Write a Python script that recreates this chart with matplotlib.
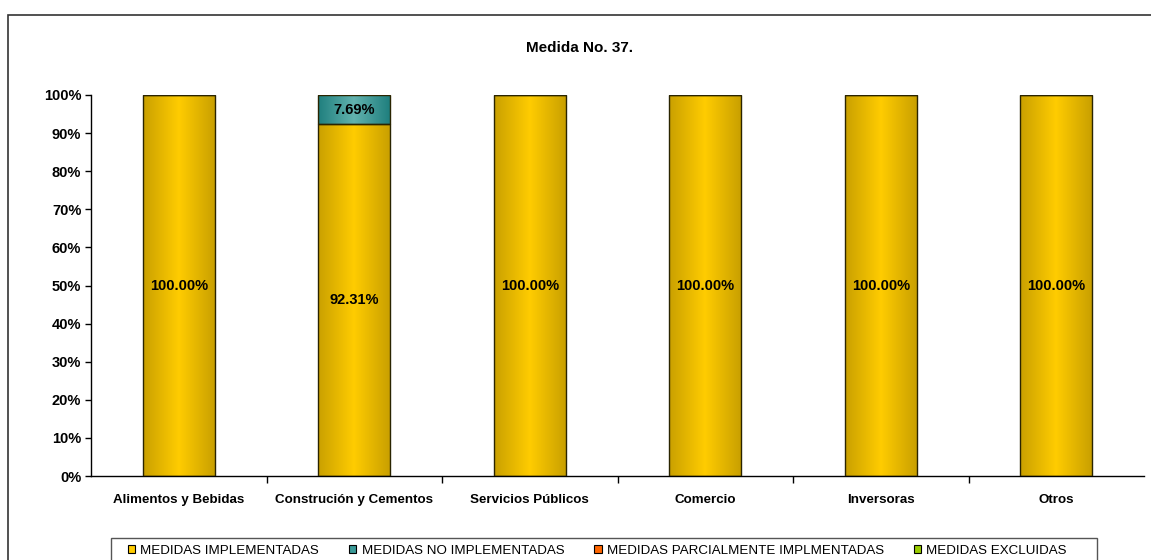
import numpy as np
import matplotlib.pyplot as plt
from matplotlib.patches import Rectangle
from matplotlib.colors import LinearSegmentedColormap

plt.rcParams['font.family'] = ['Liberation Sans', 'DejaVu Sans']

categorias = ['Alimentos y Bebidas', 'Construción y Cementos', 'Servicios Públicos',
              'Comercio', 'Inversoras', 'Otros']
implementadas = [100.00, 92.31, 100.00, 100.00, 100.00, 100.00]
no_implementadas = [0.00, 7.69, 0.00, 0.00, 0.00, 0.00]
parciales = [0, 0, 0, 0, 0, 0]
excluidas = [0, 0, 0, 0, 0, 0]

series = ['MEDIDAS IMPLEMENTADAS', 'MEDIDAS NO IMPLEMENTADAS',
          'MEDIDAS PARCIALMENTE IMPLMENTADAS', 'MEDIDAS EXCLUIDAS']
colores = ['#FFCC00', '#3A9A98', '#FF6600', '#99CC00']

cmap_oro = LinearSegmentedColormap.from_list('oro', ['#C9A000', '#FFCC00', '#C9A000'])
cmap_teal = LinearSegmentedColormap.from_list('teal', ['#1F7F7E', '#62B2AE', '#1F7F7E'])


def barras_degradado(ax, x, bottom, height, cmap, width=0.41):
    bars = ax.bar(x, height, width, bottom=bottom, color='none',
                  edgecolor='#2a2400', linewidth=1.0, zorder=3)
    grad = np.linspace(0, 1, 256).reshape(1, -1)
    for b in bars:
        if b.get_height() <= 0:
            continue
        x0, y0 = b.get_x(), b.get_y()
        im = ax.imshow(grad, cmap=cmap, aspect='auto', zorder=2,
                       extent=[x0, x0 + b.get_width(), y0, y0 + b.get_height()])
        im.set_clip_path(b)
    return bars


fig = plt.figure(figsize=(11.51, 5.6), dpi=100)
ax = fig.add_axes([91 / 1151, 1 - 476 / 560, (1144 - 91) / 1151, (476 - 95) / 560])

x = np.arange(len(categorias))
barras_degradado(ax, x, 0, implementadas, cmap_oro)
barras_degradado(ax, x, implementadas, no_implementadas, cmap_teal)

for i in range(len(categorias)):
    ax.text(x[i], implementadas[i] / 2, '%.2f%%' % implementadas[i], ha='center',
            va='center', fontsize=10.5, fontweight='bold', zorder=5)
    if no_implementadas[i] > 0:
        ax.text(x[i], implementadas[i] + no_implementadas[i] / 2,
                '%.2f%%' % no_implementadas[i], ha='center', va='center',
                fontsize=10.5, fontweight='bold', zorder=5)

ax.set_xlim(-0.5, len(categorias) - 0.5)
ax.set_ylim(0, 100)
ax.set_yticks(np.arange(0, 101, 10))
ax.set_yticklabels(['%d%%' % v for v in range(0, 101, 10)], fontsize=10.5, fontweight='bold')
ax.set_xticks(x)
ax.set_xticklabels(categorias, fontsize=9.6, fontweight='bold')
ax.set_xticks(np.arange(0.5, len(categorias) - 0.5, 1), minor=True)
ax.tick_params(axis='x', which='major', length=0, pad=13)
ax.tick_params(axis='x', which='minor', length=5, width=1, direction='out')
ax.tick_params(axis='y', length=4, width=1, direction='out', pad=3)
ax.spines['top'].set_visible(False)
ax.spines['right'].set_visible(False)
for s in ['left', 'bottom']:
    ax.spines[s].set_linewidth(1.0)
ax.set_autoscale_on(False)

fig.text(580 / 1151, 1 - 48 / 560, 'Medida No. 37.', ha='center', va='center',
         fontsize=11, fontweight='bold')

# marco del gráfico y de la leyenda
fig.patches.append(Rectangle((8 / 1151, -0.1), 1.2, 1.1 - 15 / 560,
                             transform=fig.transFigure, fill=False,
                             edgecolor='#333333', linewidth=1.2))
fig.patches.append(Rectangle((111 / 1151, -0.1), (1097 - 111) / 1151, 0.1 + 1 - 538 / 560,
                             transform=fig.transFigure, fill=False,
                             edgecolor='#555555', linewidth=1.0))

handles = [Rectangle((0, 0), 1, 1, facecolor=c, edgecolor='black', linewidth=0.8)
           for c in colores]
leg = fig.legend(handles, series, ncol=4, loc='center left',
                 bbox_to_anchor=(128 / 1151, 1 - 551 / 560), frameon=False,
                 fontsize=9.6, handlelength=0.55, handleheight=0.55, handletextpad=0.38,
                 columnspacing=2.25, borderpad=0, borderaxespad=0)

fig.savefig('out.png', dpi=100)
